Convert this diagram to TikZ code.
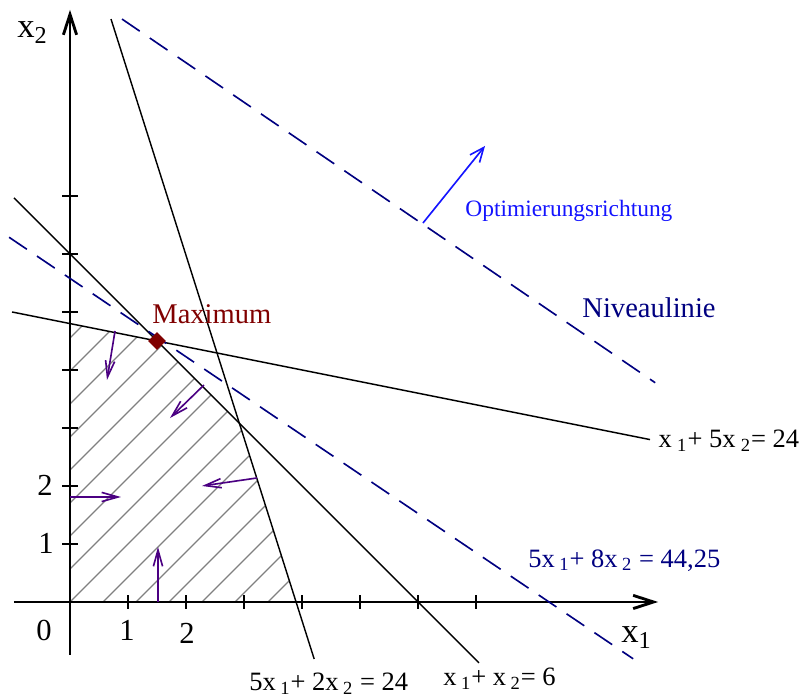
\documentclass[tikz,border=0pt]{standalone}
\usepackage{fontspec}
\setmainfont{Liberation Serif}
\usetikzlibrary{arrows.meta}
\usetikzlibrary{shapes.geometric}
\definecolor{maxred}{HTML}{800000}
\definecolor{levelblue}{HTML}{000080}
\definecolor{dirblue}{HTML}{1414FF}
\definecolor{gradviolet}{HTML}{4B0082}
\newcommand{\idx}[1]{\,\textsubscript{#1}}
\newcommand{\widx}[1]{\hspace{.2em}\textsubscript{#1}}

\begin{document}
\begin{tikzpicture}[
            axis/.style={line width=1.4pt, -{Straight Barb[length=10pt,width=6.5pt]}},
            constr/.style={line width=.7pt},
            level/.style={line width=.8pt, draw=levelblue, dash pattern=on 10.5pt off 6pt},
            hatch/.style={line width=.6pt, draw=gray},
            normal/.style={line width=.8pt, draw=gradviolet, -{Straight Barb[length=8pt,width=4.5pt]}},
            lbl/.style={inner sep=0pt, anchor=base west, font=\fontsize{13}{15}\selectfont},
            num/.style={inner sep=0pt, font=\fontsize{15}{17}\selectfont},
        ]
            \useasboundingbox (-1.207,-1.655) rectangle (12.655,10.379);

            % feasible region, hatched
            \begin{scope}
                \clip (0,0) -- (0,4.8) -- (1.5,4.5) -- (2.92,3.08) -- (3.9,0) -- cycle;
                \foreach \k in {-8,...,6}
                    \draw[hatch] ({\k*0.569},0) -- ++(6,6);
            \end{scope}

            % axes with ticks
            \draw[axis] (-0.966,0) -- (10.14,0);
            \draw[axis] (0,-0.914) -- (0,10.21);
            \foreach \i in {1,...,7} {
                \draw[line width=1pt] (\i,-0.12) -- (\i,0.12);
                \draw[line width=1pt] (-0.13,\i) -- (0.13,\i);
            }
            \node[lbl, font=\fontsize{17}{19}\selectfont] (xtwo) at (-0.914,9.724) {x\textsubscript{2}};
            \node[lbl, font=\fontsize{17}{19}\selectfont] (xone) at (9.5,-0.707) {x\textsubscript{1}};
            \node[num] (n0) at (-0.448,-0.483) {0};
            \node[num] (nx1) at (0.983,-0.483) {1};
            \node[num] (nx2) at (2.017,-0.534) {2};
            \node[num] (ny1) at (-0.414,1.017) {1};
            \node[num] (ny2) at (-0.431,2.017) {2};

            % constraints
            \draw[constr] (-1,5) -- (10,2.8);
            \draw[constr] (-0.966,6.966) -- (7.05,-1.05);
            \draw[constr] (0.707,10.05) -- (4.21,-0.983);
            \node[lbl, anchor=base east] (c1) at (12.58,2.655) {x\widx{1}+ 5x\widx{2}= 24};
            \node[lbl] (c2) at (6.431,-1.448) {x\idx{1}+ x\idx{2}= 6};
            \node[lbl] (c3) at (3.086,-1.534) {5x\idx{1}+ 2x\idx{2} = 24};

            % level lines and direction
            \draw[level] (-1.05,6.288) -- (9.71,-0.98);
            \draw[level] (0.897,10.05) -- (10.09,3.78);
            \draw[line width=.8pt, draw=dirblue, -{Straight Barb[length=7pt,width=6pt]}] (6.086,6.534) -- (7.155,7.862);
            \node[lbl, levelblue] (obj) at (7.897,0.603) {5x\idx{1}+ 8x\idx{2} = 44,25};
            \node[lbl, levelblue, font=\fontsize{14}{16}\selectfont] (niv) at (8.828,4.897) {Niveaulinie};
            \node[lbl, dirblue, font=\fontsize{11.5}{13}\selectfont] (dir) at (6.81,6.638) {Optimierungsrichtung};

            % normals of the constraints
            \draw[normal] (0.776,4.672) -- (0.638,3.828);
            \draw[normal] (2.310,3.741) -- (1.724,3.172);
            \draw[normal] (3.224,2.138) -- (2.276,2.0);
            \draw[normal] (0,1.81) -- (0.879,1.81);
            \draw[normal] (1.517,0) -- (1.517,0.948);

            % optimum
            \node[diamond, fill=maxred, inner sep=0pt, minimum size=0.31cm] (max) at (1.5,4.5) {};
            \node[lbl, maxred, font=\fontsize{14}{16}\selectfont] (maxlbl) at (1.414,4.793) {Maximum};
        \end{tikzpicture}
\end{document}
